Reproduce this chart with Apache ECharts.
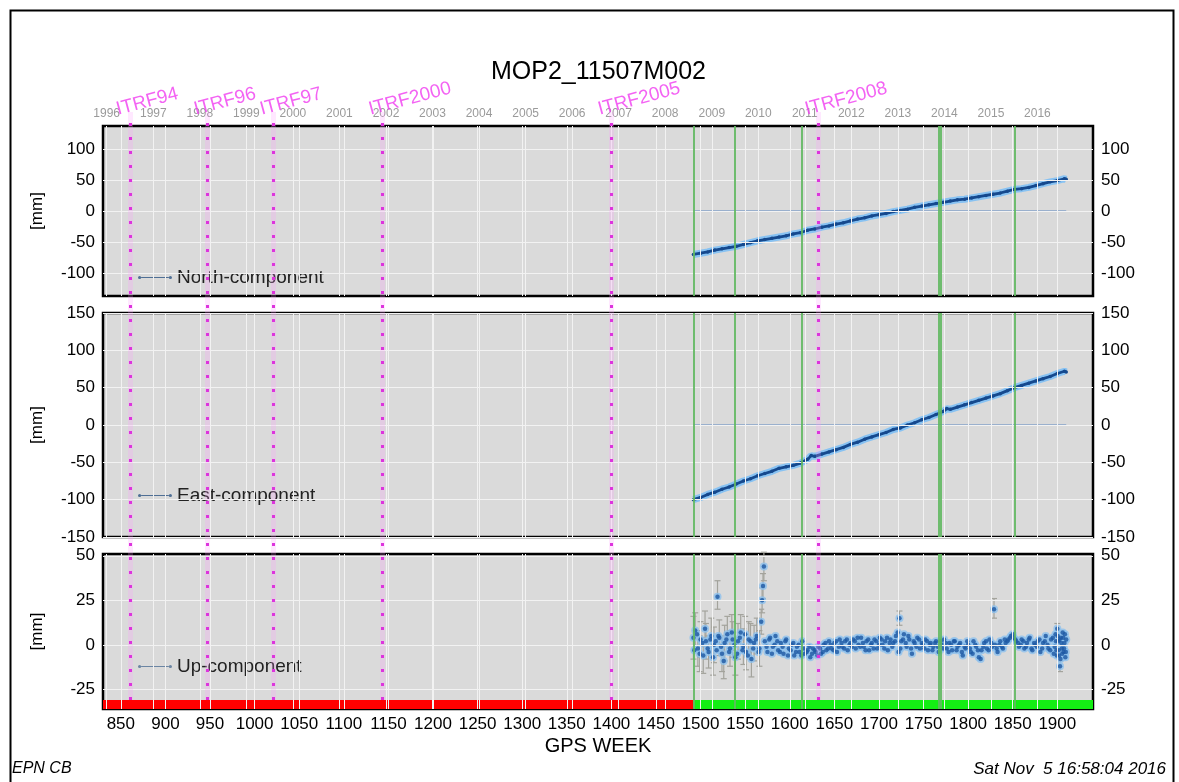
<!DOCTYPE html>
<html><head><meta charset="utf-8">
<script src="https://cdn.jsdelivr.net/npm/echarts@6.0.0/dist/echarts.min.js"></script>
<style>html,body{margin:0;padding:0;background:#fff}#c{width:1179px;height:782px}</style>
</head><body><div id="c"></div>
<script>
const stationName = 'MOP2_11507M002';
const footerLeft = 'EPN CB';
const footerRight = 'Sat Nov  5 16:58:04 2016';
const weekTicks = [850,900,950,1000,1050,1100,1150,1200,1250,1300,1350,1400,1450,1500,1550,1600,1650,1700,1750,1800,1850,1900];
const yearWeeks = [834.1,886.4,938.6,990.7,1042.9,1095.1,1147.3,1199.4,1251.6,1303.9,1356.0,1408.1,1460.3,1512.6,1564.7,1616.9,1669.0,1721.3,1773.4,1825.6,1877.7];
const yearLabels = ['1996','1997','1998','1999','2000','2001','2002','2003','2004','2005','2006','2007','2008','2009','2010','2011','2012','2013','2014','2015','2016'];
const itrfNames = ['ITRF94','ITRF96','ITRF97','ITRF2000','ITRF2005','ITRF2008'];
const itrfWeeks = [860,947,1021,1143,1400,1632];
const equipWeeks = [1492,1538,1614,1767,1769,1852];
const northTicks = [-100,-50,0,50,100];
const eastTicks = [-150,-100,-50,0,50,100,150];
const upTicks = [-25,0,25,50];
const refLine = [[1492,0],[1910,0]];
const noDataSpan = [830,1492];
const dataSpan = [1492,1940];
const northData = [[1492,-70],[1500,-68],[1508,-66],[1516,-63],[1524,-61],[1532,-59],[1540,-57],[1548,-54],[1556,-51],[1564,-48],[1572,-46],[1580,-44],[1588,-42],[1596,-40],[1604,-37],[1612,-35],[1620,-31],[1628,-29],[1636,-26],[1644,-24],[1652,-21],[1660,-19],[1668,-16],[1676,-13],[1684,-11],[1692,-8],[1700,-6],[1708,-4],[1716,-1],[1724,1],[1732,3],[1740,6],[1748,8],[1756,10],[1764,12],[1772,14],[1780,16],[1788,18],[1796,19],[1804,21],[1812,23],[1820,25],[1828,27],[1836,29],[1844,32],[1852,35],[1860,36],[1868,38],[1876,41],[1884,44],[1892,47],[1900,49],[1908,52],[1910,51]];
const eastData = [[1492,-100],[1500,-97],[1508,-93],[1516,-90],[1524,-86],[1532,-83],[1540,-79],[1548,-75],[1556,-72],[1564,-68],[1572,-65],[1580,-62],[1588,-58],[1596,-56],[1604,-54],[1612,-51],[1620,-46],[1624,-41],[1628,-42],[1636,-39],[1644,-36],[1652,-33],[1660,-30],[1668,-26],[1676,-23],[1684,-19],[1692,-16],[1700,-13],[1708,-10],[1716,-6],[1724,-4],[1732,0],[1740,3],[1748,7],[1756,10],[1764,14],[1772,18],[1776,22],[1780,21],[1788,24],[1796,27],[1804,30],[1812,33],[1820,36],[1828,39],[1836,42],[1844,46],[1852,50],[1860,53],[1868,56],[1876,59],[1884,62],[1892,65],[1900,69],[1908,72],[1910,71]];
const upDataA = [[1492,4],[1494,8],[1497,-2],[1500,3],[1503,-6],[1506,2],[1509,-4],[1512,5],[1515,0],[1518,-3],[1519,27],[1521,4],[1524,-5],[1527,1],[1530,6],[1533,-2],[1536,3],[1539,-7],[1542,2],[1545,7],[1548,-1],[1551,-4],[1554,3],[1557,-8],[1560,1],[1563,5],[1566,-2],[1568,13],[1569,25],[1570,33],[1571,44],[1572,2],[1575,-4],[1578,4],[1581,-1],[1584,5],[1587,-3],[1590,1],[1593,-5],[1596,3],[1599,-2],[1602,0],[1605,-6],[1608,-1],[1611,-4],[1614,2],[1617,-5],[1620,-3],[1623,-7],[1626,-2],[1629,-4],[1632,-1],[1635,-5],[1638,0],[1641,-3],[1644,2],[1647,-2],[1650,1],[1653,-4],[1656,3],[1659,-1],[1662,2],[1665,-3],[1668,1],[1671,3],[1674,-2],[1677,0],[1680,4],[1683,-1],[1686,2],[1689,-3],[1692,1],[1695,3],[1698,-2],[1701,4],[1704,0],[1707,2],[1710,-3],[1713,3],[1716,1],[1719,5],[1722,-4],[1723,15],[1725,2],[1728,6],[1731,-1],[1734,3],[1737,-5],[1740,1],[1743,4],[1746,-2],[1749,0],[1752,3],[1755,-3],[1758,1],[1761,-1],[1764,2],[1767,-4],[1770,0],[1773,3],[1776,-2],[1779,1],[1782,-3],[1785,2],[1788,-1],[1791,1],[1794,-6],[1797,-2],[1800,0],[1803,-4],[1806,2],[1809,-1],[1812,-7],[1815,-3],[1818,1],[1821,-2],[1824,3],[1827,-1],[1829,20],[1830,0],[1833,-4],[1836,2],[1839,-2],[1842,1],[1845,3],[1848,5],[1851,4],[1854,2],[1857,-1],[1860,3],[1863,-2],[1866,1],[1869,4],[1872,-3],[1875,0],[1878,2],[1881,-4],[1884,1],[1887,5],[1890,-2],[1893,3],[1896,-5],[1898,6],[1899,-3],[1900,9],[1901,2],[1902,-6],[1903,-12],[1904,4],[1905,-2],[1906,7],[1907,-4],[1908,1],[1909,-7],[1910,3]];
const upDataB = [[1493,-3],[1496,6],[1499,-5],[1502,1],[1505,9],[1508,-2],[1511,3],[1514,-7],[1517,2],[1520,5],[1523,-1],[1526,-9],[1529,3],[1532,-4],[1535,7],[1538,0],[1541,-5],[1544,4],[1547,-3],[1550,6],[1553,-6],[1556,2],[1559,-2],[1562,3],[1565,-4],[1574,-1],[1577,3],[1580,-5],[1583,0],[1586,2],[1589,-4],[1592,-1],[1595,2],[1598,-6],[1601,-3],[1604,1],[1607,-4],[1610,0],[1613,-6],[1616,-2],[1619,-4],[1622,-1],[1625,-5],[1628,-3],[1631,-6],[1634,-2],[1637,-4],[1640,1],[1643,-2],[1646,0],[1649,-3],[1652,2],[1655,-1],[1658,1],[1661,-2],[1664,3],[1667,0],[1670,-1],[1673,2],[1676,4],[1679,-1],[1682,1],[1685,-3],[1688,3],[1691,0],[1694,-2],[1697,2],[1700,0],[1703,3],[1706,-2],[1709,4],[1712,1],[1715,-1],[1718,2],[1721,7],[1724,-2],[1727,3],[1730,1],[1733,5],[1736,-2],[1739,2],[1742,-1],[1745,3],[1748,1],[1751,-2],[1754,2],[1757,0],[1760,-3],[1763,1],[1766,-1],[1769,2],[1772,-2],[1775,1],[1778,-4],[1781,0],[1784,2],[1787,-3],[1790,0],[1793,-4],[1796,-1],[1799,2],[1802,-2],[1805,-5],[1808,0],[1811,-3],[1814,-8],[1817,-1],[1820,2],[1823,-3],[1826,1],[1832,-2],[1835,0],[1838,-1],[1841,3],[1844,2],[1847,4],[1850,6],[1853,3],[1856,1],[1859,0],[1862,2],[1865,-1],[1868,3],[1871,-2],[1874,1],[1877,-1],[1880,3],[1883,-2],[1886,2],[1889,0],[1892,-3],[1895,4],[1897,-1],[1898.5,2],[1899.5,-6],[1900.5,5],[1901.5,-3],[1902.5,3],[1903.5,-8],[1904.5,1],[1905.5,-5],[1906.5,4],[1907.5,-2],[1908.5,6],[1909.5,-4]];
const upErrors = [[1492,-8,16],[1494,-2,18],[1497,-12,8],[1499,-15,5],[1500,-7,13],[1503,-16,4],[1505,-1,19],[1506,-8,12],[1509,-13,5],[1512,-5,15],[1514,-17,3],[1515,-10,10],[1519,20,36],[1521,-6,14],[1524,-15,5],[1526,-19,1],[1527,-9,11],[1530,-4,16],[1533,-12,8],[1535,-3,17],[1536,-7,13],[1539,-17,3],[1542,-8,12],[1545,-3,17],[1548,-11,9],[1550,-4,16],[1551,-14,6],[1554,-7,13],[1556,-8,12],[1557,-18,2],[1560,-9,11],[1563,-5,15],[1566,-12,8],[1568,6,20],[1569,18,32],[1570,26,40],[1571,36,52],[1723,11,19],[1829,15,26],[1900,5,12],[1903,-15,-9]];

const FONT = 'Liberation Sans, Arial, Helvetica, sans-serif';
const X_MIN = 830, X_MAX = 1940;
const grids = [
  {left:103, top:126, width:990, height:170},
  {left:103, top:313, width:990, height:224},
  {left:103, top:554, width:990, height:155}
];
const yRanges = [[-137,137],[-150,150],[-36,51]];
const yTicks = [northTicks, eastTicks, upTicks];

function xAxisDef(gi, extra) {
  return Object.assign({type:'value', gridIndex:gi, min:X_MIN, max:X_MAX,
    axisLine:{show:false}, axisTick:{show:false}, splitLine:{show:false}, axisLabel:{show:false}}, extra || {});
}
function yAxisDef(gi, pos, withName) {
  const d = {type:'value', gridIndex:gi, position:pos, min:yRanges[gi][0], max:yRanges[gi][1],
    axisLine:{show:false}, axisTick:{show:false, customValues:yTicks[gi]}, splitLine:{show:false},
    axisLabel:{show:true, customValues:yTicks[gi], interval:0, margin:8, color:'#000', fontSize:17, fontFamily:FONT,
      formatter:function(v){ return String(v); }}};
  if (withName) {
    Object.assign(d, {name:'[mm]', nameLocation:'middle', nameRotate:90, nameGap:57, nameMoveOverlap:false,
      nameTextStyle:{color:'#000', fontSize:17, fontFamily:FONT}});
  }
  return d;
}
const vLines = ws => ws.map(w => ({xAxis:w}));
const hLines = vs => vs.map(v => ({yAxis:v}));
const xIdx = [0,2,3];

const series = [];
for (let g = 0; g < 3; g++) {
  series.push({type:'line', xAxisIndex:xIdx[g], yAxisIndex:g*2, data:[], z:1, silent:true,
    markLine:{silent:true, symbol:'none', label:{show:false}, animation:false,
      lineStyle:{color:'#f2f2f2', width:1, type:'solid'},
      data:[...vLines(weekTicks), ...vLines(yearWeeks), ...hLines(yTicks[g])]}});
  series.push({type:'line', xAxisIndex:xIdx[g], yAxisIndex:g*2, data:[], z:2, silent:true,
    markLine:{silent:true, symbol:'none', label:{show:false}, animation:false,
      lineStyle:{color:'#62b862', width:2, type:'solid', opacity:0.9},
      data:vLines(equipWeeks)}});
}
// North
series.push({type:'line', xAxisIndex:0, yAxisIndex:0, data:refLine, symbol:'none', z:3, silent:true,
  lineStyle:{color:'#5b87c0', width:1}});
series.push({type:'line', xAxisIndex:0, yAxisIndex:0, data:northData, symbol:'none', z:3, silent:true,
  lineStyle:{color:'#88c2f2', width:7}});
series.push({name:'North-component', type:'line', xAxisIndex:0, yAxisIndex:0, data:northData, z:4,
  color:'#15498e', symbol:'circle', symbolSize:3.5, lineStyle:{color:'#15498e', width:2.8}});
// East
series.push({type:'line', xAxisIndex:2, yAxisIndex:2, data:refLine, symbol:'none', z:3, silent:true,
  lineStyle:{color:'#5b87c0', width:1}});
series.push({type:'line', xAxisIndex:2, yAxisIndex:2, data:eastData, symbol:'none', z:3, silent:true,
  lineStyle:{color:'#88c2f2', width:7}});
series.push({name:'East-component', type:'line', xAxisIndex:2, yAxisIndex:2, data:eastData, z:4,
  color:'#15498e', symbol:'circle', symbolSize:3.5, lineStyle:{color:'#15498e', width:2.8}});
// Up
series.push({type:'custom', xAxisIndex:3, yAxisIndex:4, data:upErrors, z:3, silent:true,
  encode:{x:0, y:[1,2]},
  renderItem:function(params, api){
    const x = api.value(0);
    const p1 = api.coord([x, api.value(1)]);
    const p2 = api.coord([x, api.value(2)]);
    const st = {stroke:'#a3a39c', lineWidth:1.2};
    return {type:'group', children:[
      {type:'line', shape:{x1:p1[0], y1:p1[1], x2:p2[0], y2:p2[1]}, style:st},
      {type:'line', shape:{x1:p1[0]-3, y1:p1[1], x2:p1[0]+3, y2:p1[1]}, style:st},
      {type:'line', shape:{x1:p2[0]-3, y1:p2[1], x2:p2[0]+3, y2:p2[1]}, style:st}
    ]};
  }});
const upAll = upDataA.concat(upDataB);
series.push({type:'scatter', xAxisIndex:3, yAxisIndex:4, data:upAll, z:3, silent:true,
  symbolSize:8, itemStyle:{color:'#8cc0ee', opacity:0.8}});
series.push({name:'Up-component', type:'scatter', xAxisIndex:3, yAxisIndex:4, data:upAll, z:4,
  color:'#1d58a3', symbolSize:4.5, itemStyle:{color:'#1d58a3'}});
// coverage bar
series.push({type:'line', xAxisIndex:3, yAxisIndex:4, data:[], z:6, silent:true,
  markArea:{silent:true, animation:false, data:[
    [{xAxis:noDataSpan[0], yAxis:-36, itemStyle:{color:'#ff0000'}}, {xAxis:noDataSpan[1], yAxis:-31}],
    [{xAxis:dataSpan[0], yAxis:-36, itemStyle:{color:'#14ee14'}}, {xAxis:dataSpan[1], yAxis:-31}]
  ]}});
// ITRF overlay
series.push({type:'line', xAxisIndex:4, yAxisIndex:6, data:[], z:7, silent:true,
  markLine:{silent:true, symbol:'none', label:{show:false}, animation:false,
    lineStyle:{color:'rgba(255,150,255,0.22)', width:5, type:'solid'}, data:vLines(itrfWeeks)}});
series.push({type:'line', xAxisIndex:4, yAxisIndex:6, data:[], z:8, silent:true,
  markLine:{silent:true, symbol:'none', label:{show:false}, animation:false,
    lineStyle:{color:'#dd33dd', width:3, type:[3,11], cap:'butt'}, data:vLines(itrfWeeks)}});
series.push({type:'scatter', xAxisIndex:4, yAxisIndex:6, z:9, silent:true, symbolSize:0,
  data:itrfWeeks.map((w,i)=>({value:[w,1], name:itrfNames[i]})),
  label:{show:true, formatter:'{b}', position:'top', distance:0, align:'left', verticalAlign:'bottom',
    rotate:15, offset:[-12,4], color:'#f03cf0', fontSize:19, fontFamily:FONT}});

const legendCommon = {orient:'horizontal', itemWidth:34, itemHeight:6, itemGap:0,
  icon:'path://M3,2.6H31V3.4H3Z M0,3A1.6,1.6,0,1,0,3.2,3A1.6,1.6,0,1,0,0,3Z M30.8,3A1.6,1.6,0,1,0,34,3A1.6,1.6,0,1,0,30.8,3Z',
  itemStyle:{color:'#4f6f95'}, selectedMode:false,
  textStyle:{color:'#222', fontSize:19, fontFamily:FONT}};

const option = {
  animation:false,
  backgroundColor:'#ffffff',
  title:{text:stationName, left:486, top:55, textStyle:{color:'#000', fontSize:25, fontWeight:'normal', fontFamily:FONT}},
  legend:[
    Object.assign({}, legendCommon, {data:['North-component'], left:133, top:263}),
    Object.assign({}, legendCommon, {data:['East-component'], left:133, top:481}),
    Object.assign({}, legendCommon, {data:['Up-component'], left:133, top:652})
  ],
  grid:[
    ...grids.map(g => Object.assign({show:true, backgroundColor:'#dadada', borderColor:'#000', borderWidth:2.5, outerBoundsMode:'none'}, g)),
    {left:103, top:112, width:990, height:588, show:false, outerBoundsMode:'none'}
  ],
  xAxis:[
    xAxisDef(0),
    xAxisDef(0, {position:'top', axisTick:{show:false, customValues:yearWeeks},
      axisLabel:{show:true, customValues:yearWeeks, interval:0, margin:6, color:'#9a9a9a', fontSize:12, fontFamily:FONT,
        formatter:function(v){ let k=0, best=1e9; yearWeeks.forEach((w,i)=>{ if (Math.abs(w-v)<best){best=Math.abs(w-v);k=i;} }); return yearLabels[k]; }}}),
    xAxisDef(1),
    xAxisDef(2, {position:'bottom', axisTick:{show:false, customValues:weekTicks},
      axisLabel:{show:true, customValues:weekTicks, interval:0, margin:7, color:'#000', fontSize:17, fontFamily:FONT,
        formatter:function(v){ return String(v); }},
      name:'GPS WEEK', nameLocation:'middle', nameGap:27, nameMoveOverlap:false,
      nameTextStyle:{color:'#000', fontSize:20, fontFamily:FONT}}),
    xAxisDef(3, {show:false})
  ],
  yAxis:[
    yAxisDef(0,'left',true), yAxisDef(0,'right',false),
    yAxisDef(1,'left',true), yAxisDef(1,'right',false),
    yAxisDef(2,'left',true), yAxisDef(2,'right',false),
    {type:'value', gridIndex:3, min:0, max:1, show:false}
  ],
  graphic:[
    {type:'rect', left:8, top:8, silent:true, z:100, shape:{width:1163, height:800}, style:{fill:'none', stroke:'#000', lineWidth:2}},
    {type:'text', left:12, top:761, silent:true, style:{text:footerLeft, fill:'#000', fontSize:16, fontStyle:'italic', fontFamily:FONT}},
    {type:'text', right:13, top:761, silent:true, style:{text:footerRight, fill:'#000', fontSize:17, fontStyle:'italic', fontFamily:FONT}}
  ],
  series:series
};
const chart = echarts.init(document.getElementById('c'), null, {renderer:'canvas'});
chart.setOption(option);
</script></body></html>
